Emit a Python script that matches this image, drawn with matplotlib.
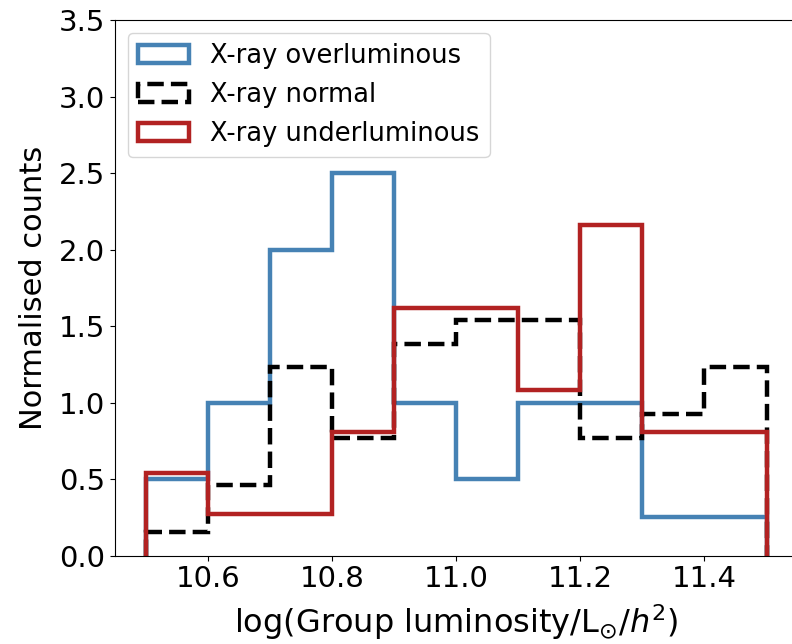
import numpy as np
import matplotlib.pyplot as plt

# bin edges in log(L/Lsun/h^2) and group counts per bin
edges = np.round(np.arange(10.5, 11.51, 0.1), 2)
counts_over = [2, 4, 8, 10, 4, 2, 4, 4, 1, 1]
counts_normal = [1, 3, 8, 5, 9, 10, 10, 5, 6, 8]
counts_under = [2, 1, 1, 3, 6, 6, 4, 8, 3, 3]

labels = ['X-ray overluminous', 'X-ray normal', 'X-ray underluminous']
colors = ['#4682b4', 'black', '#b22222']
styles = ['-', '--', '-']

centres = 0.5 * (edges[:-1] + edges[1:])

fig = plt.figure(figsize=(7.92, 6.44), dpi=100)
ax = fig.add_axes([0.145, 0.137, 0.862, 0.832])

for cnt, lab, col, ls in zip([counts_over, counts_normal, counts_under], labels, colors, styles):
    ax.hist(centres, bins=edges, weights=cnt, density=True, histtype='step',
            color=col, linestyle=ls, linewidth=3.2, label=lab)

ax.set_ylim(0, 3.5)
ax.set_xlim(10.45, 11.55)
ax.set_xticks([10.6, 10.8, 11.0, 11.2, 11.4])
ax.spines['right'].set_visible(False)  # falls past the canvas edge anyway
ax.tick_params(labelsize=21)
ax.set_xlabel(r'log(Group luminosity/L$_{\odot}$/$h^2$)', fontsize=23, labelpad=6)
ax.set_ylabel('Normalised counts', fontsize=22, labelpad=8)
ax.legend(loc='upper left', fontsize=18.5)

fig.savefig('out.png')
